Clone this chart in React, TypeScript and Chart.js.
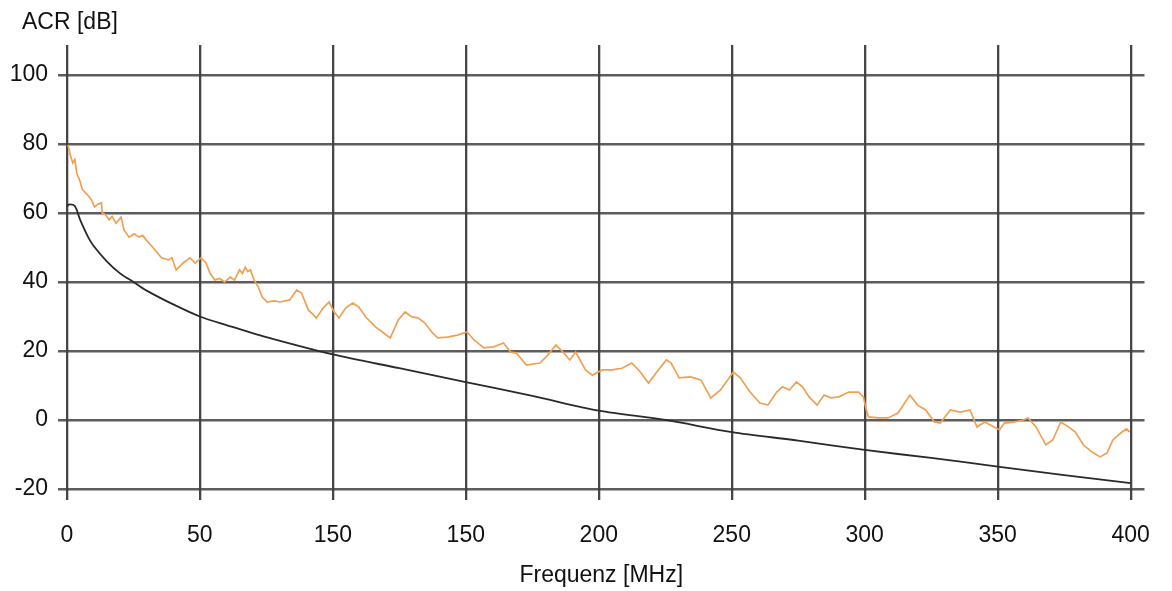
import React, { useEffect, useRef } from "react";
import { Chart, registerables } from "chart.js";

Chart.register(...registerables);

// ---- data ----
const yTitle = "ACR [dB]";
const xTitle = "Frequenz [MHz]";
const xTickValues = [0, 50, 100, 150, 200, 250, 300, 350, 400];
const xTickLabels = ["0", "50", "150", "150", "200", "250", "300", "350", "400"];
const yTickValues = [-20, 0, 20, 40, 60, 80, 100];
const yTickLabels = ["-20", "0", "20", "40", "60", "80", "100"];

// measured ACR (orange)
const measFreq = [
  0.4, 1.2, 2.2, 3.0, 3.7, 4.8, 5.9, 7.5, 9.3, 10.4, 11.5, 13.0, 13.3, 14.5, 15.9, 17.0, 18.5, 20.4, 21.5, 23.4,
  25.3, 27.1, 28.5, 30.0, 31.8, 33.4, 35.6, 38.2, 39.5, 41.1, 43.7, 46.3, 48.2, 50.4, 52.3, 53.8, 55.6, 57.5, 59.3,
  61.5, 63.0, 64.9, 66.0, 67.1, 68.0, 69.0, 70.4, 72.0, 73.4, 75.3, 78.0, 80.1, 83.8, 86.4, 88.2, 90.8, 93.8, 96.4,
  98.6, 100.5, 102.3, 104.9, 107.5, 109.7, 112.3, 116.0, 118.6, 121.6, 124.6, 127.2, 129.7, 132.0, 134.6, 137.2,
  139.4, 143.1, 146.8, 150.5, 153.1, 156.8, 160.5, 164.2, 166.8, 169.0, 172.8, 177.9, 180.2, 183.9, 186.5, 189.1,
  191.3, 195.0, 197.6, 201.3, 205.0, 208.7, 212.4, 215.0, 218.7, 222.4, 225.4, 227.2, 230.2, 234.6, 238.4, 242.1,
  245.8, 250.6, 253.2, 256.9, 260.6, 263.6, 266.9, 269.1, 271.7, 274.3, 276.6, 279.1, 282.1, 284.7, 287.3, 290.3,
  294.0, 297.7, 299.5, 300.6, 301.4, 305.1, 308.8, 312.5, 317.0, 319.9, 322.9, 326.2, 328.4, 332.2, 335.9, 339.6,
  342.2, 345.1, 348.5, 350.7, 352.5, 355.9, 359.6, 361.4, 364.4, 368.1, 370.7, 372.9, 373.7, 376.6, 379.2, 382.2,
  385.5, 388.5, 391.1, 393.3, 396.7, 398.5, 399.6,
];
const measAcr = [
  79.7, 77, 74.5, 75.5, 71.6, 69.5, 66.7, 65.5, 63.8, 61.7, 62.5, 63, 60, 59.5, 58, 59, 57, 58.8, 55, 53,
  54, 53, 53.5, 52, 50.5, 49, 47, 46.4, 47, 43.5, 45.5, 47, 45.5, 47, 45.5, 42.6, 40.6, 41, 40,
  41.4, 40.5, 43.5, 42.5, 44.3, 43, 43.5, 40.6, 38.5, 35.7, 34.2, 34.5, 34.2, 34.8, 37.7, 36.8, 31.9, 29.6, 32.5,
  34.2, 31.3, 29.6, 32.5, 33.9, 32.8, 29.9, 27, 25.5, 23.8, 29, 31.3, 29.9, 29.6, 28.1, 25.5,
  23.8, 24, 24.6, 25.5, 23.2, 20.9, 21.2, 22.3, 19.7, 19.4, 15.9, 16.5, 18.3, 21.7, 19.7, 17.4,
  19.7, 14.5, 13, 14.5, 14.5, 15, 16.5, 14.5, 10.7, 14.5, 17.4, 16.5, 12.2, 12.5, 11.6, 6.4,
  8.7, 13.9, 12.2, 8.1, 4.9, 4.3, 8.1, 9.6, 8.7, 11, 9.6, 6.7, 4.3, 7.2, 6.4, 6.7,
  8.1, 8.1, 6.7, 2.9, 0.9, 0.6, 0.6, 2, 7.2, 4.3, 2.9, -0.6, -0.9, 2.9, 2.3, 2.9,
  -2, -0.6, -2, -2.9, -0.9, -0.6, 0, 0.6, -2, -7.2, -5.8, -2, -0.6, -2, -3.5, -7.2,
  -9.3, -10.7, -9.6, -5.8, -3.5, -2.6, -3.5,
];

// limit curve (black)
const limitFreq = [0, 1, 3, 5, 8, 10, 15, 20, 25, 30, 40, 50, 60, 75, 100, 125, 150, 175, 200, 225, 250, 275, 300, 325, 350, 375, 400];
const limitAcr = [62, 62.5, 62, 58, 53, 50.5, 46, 42.5, 40, 37.5, 33.5, 30, 27.5, 24, 19, 15, 11, 7, 2.7, 0, -3.5, -6, -8.7, -11, -13.5, -16, -18.3];

const FONT = "'Liberation Sans', Arial, sans-serif";

export default function App() {
  const ref = useRef<HTMLCanvasElement | null>(null);

  useEffect(() => {
    document.body.style.margin = "0";
    const canvas = ref.current;
    if (!canvas) return;

    const titlePlugin = {
      id: "yTitleTop",
      afterDraw(chart: any) {
        const ctx = chart.ctx;
        ctx.save();
        ctx.font = `23px ${FONT}`;
        ctx.fillStyle = "#111";
        ctx.textAlign = "left";
        ctx.textBaseline = "alphabetic";
        ctx.fillText(yTitle, 22, 28.5);
        ctx.restore();
      },
    };

    const chart = new Chart(canvas, {
      type: "line",
      data: {
        datasets: [
          {
            label: "limit",
            data: limitFreq.map((f, i) => ({ x: f, y: limitAcr[i] })),
            borderColor: "#2a2a2a",
            borderWidth: 1.8,
            pointRadius: 0,
            tension: 0.3,
            fill: false,
          },
          {
            label: "ACR",
            data: measFreq.map((f, i) => ({ x: f, y: measAcr[i] })),
            borderColor: "#f0a052",
            borderWidth: 1.7,
            pointRadius: 0,
            tension: 0,
            fill: false,
          },
        ],
      },
      options: {
        animation: false,
        responsive: false,
        devicePixelRatio: 1,
        layout: { padding: { top: 45, right: 12, left: 0, bottom: 0 } },
        plugins: { legend: { display: false }, tooltip: { enabled: false } },
        scales: {
          x: {
            type: "linear",
            min: -3.34,
            max: 405.2,
            afterBuildTicks: (scale: any) => {
              scale.ticks = xTickValues.map((v) => ({ value: v }));
            },
            afterFit: (scale: any) => {
              scale.height = 91;
            },
            ticks: {
              autoSkip: false,
              maxRotation: 0,
              padding: 22,
              color: "#111",
              font: { family: FONT, size: 23 },
              callback: (v: any) => {
                const i = xTickValues.indexOf(Number(v));
                return i >= 0 ? xTickLabels[i] : "";
              },
            },
            grid: { color: "rgba(50,50,50,0.9)", lineWidth: 2.3, drawTicks: false },
            border: { display: false },
            title: {
              display: true,
              text: xTitle,
              color: "#111",
              font: { family: FONT, size: 23 },
              padding: { top: 0, bottom: 2 },
            },
          },
          y: {
            type: "linear",
            min: -23.2,
            max: 108.7,
            afterBuildTicks: (scale: any) => {
              scale.ticks = yTickValues.map((v) => ({ value: v }));
            },
            afterFit: (scale: any) => {
              scale.width = 58;
            },
            ticks: {
              autoSkip: false,
              padding: 10,
              color: "#111",
              font: { family: FONT, size: 23 },
              callback: (v: any) => {
                const i = yTickValues.indexOf(Number(v));
                return i >= 0 ? yTickLabels[i] : "";
              },
            },
            grid: { color: "rgba(65,65,65,0.85)", lineWidth: 2.6, drawTicks: false },
            border: { display: false },
          },
        },
      },
      plugins: [titlePlugin],
    } as any);

    return () => chart.destroy();
  }, []);

  return (
    <div style={{ width: 1172, height: 591, background: "#fff" }}>
      <canvas ref={ref} width={1172} height={591} />
    </div>
  );
}
